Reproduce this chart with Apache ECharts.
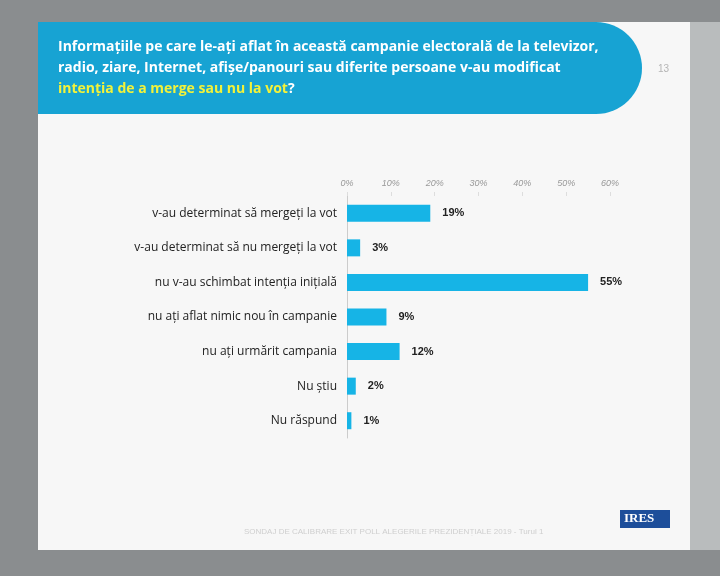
<!DOCTYPE html>
<html><head><meta charset="utf-8">
<script src="https://cdn.jsdelivr.net/npm/echarts@6/dist/echarts.min.js"></script>
<style>html,body{margin:0;padding:0;background:#8a8d8f}#c{width:720px;height:576px}</style>
</head><body><div id="c"></div>
<script>
const categories = ["v-au determinat să mergeți la vot","v-au determinat să nu mergeți la vot","nu v-au schimbat intenția inițială","nu ați aflat nimic nou în campanie","nu ați urmărit campania","Nu știu","Nu răspund"];
const values = [19,3,55,9,12,2,1];
const ticks = ["0%","10%","20%","30%","40%","50%","60%"];
const chart = echarts.init(document.getElementById('c'));
chart.setOption({
  backgroundColor: '#8a8d8f',
  graphic: [
    {type:'rect', shape:{x:38,y:22,width:652,height:528}, style:{fill:'#f7f7f7'}, z:-10},
    {type:'rect', shape:{x:38,y:22,width:604,height:92,r:[0,46,46,0]}, style:{fill:'#17a3d3'}, z:-5},
    {type:'rect', shape:{x:690,y:22,width:30,height:528}, style:{fill:'#b9bcbd'}, z:-9},
    {type:'text', left:58, top:40, style:{text:'{w|Informațiile pe care le-ați aflat în această campanie electorală de la televizor,}\n{w|radio, ziare, Internet, afișe/panouri sau diferite persoane v-au modificat}\n{y|intenția de a merge sau nu la vot}{w|?}',
      rich:{w:{fill:'#fff', font:'bold 14px "Open Sans", sans-serif', lineHeight:21}, y:{fill:'#f2f23a', font:'bold 14px "Open Sans", sans-serif', lineHeight:21}}}},
    {type:'text', left:658, top:64, style:{text:'13', fill:'#b5b5b5', font:'10px sans-serif'}},
    {type:'text', left:244, top:528, style:{text:'SONDAJ DE CALIBRARE EXIT POLL ALEGERILE PREZIDENȚIALE 2019 - Turul 1', fill:'#cfcfcf', font:'8px sans-serif'}},
    {type:'rect', shape:{x:620,y:510,width:50,height:18}, style:{fill:'#1d4e9a'}},
    {type:'text', left:624, top:512, style:{text:'IRES', fill:'#fff', font:'bold 13px serif'}}
  ],
  grid: {left:347, right:110, top:196, bottom:138, containLabel:false},
  xAxis: {type:'value', position:'top', min:0, max:60, interval:10,
    axisLabel:{formatter:v=>ticks[v/10], color:'#999', fontSize:9, fontStyle:'italic'},
    axisTick:{show:true, length:4, lineStyle:{color:'#ddd'}}, axisLine:{show:false}, splitLine:{show:false}},
  yAxis: {type:'category', data:categories, inverse:true,
    axisLine:{lineStyle:{color:'#ccc'}}, axisTick:{show:false},
    axisLabel:{color:'#222', fontSize:12, margin:10, fontFamily:'"Open Sans", sans-serif'}},
  series: [{type:'bar', data:values, barWidth:17, itemStyle:{color:'#16b4e6'},
    label:{show:true, position:'right', formatter:'{c}%', color:'#222', fontWeight:'bold', fontSize:11, distance:12}}]
});
</script></body></html>
